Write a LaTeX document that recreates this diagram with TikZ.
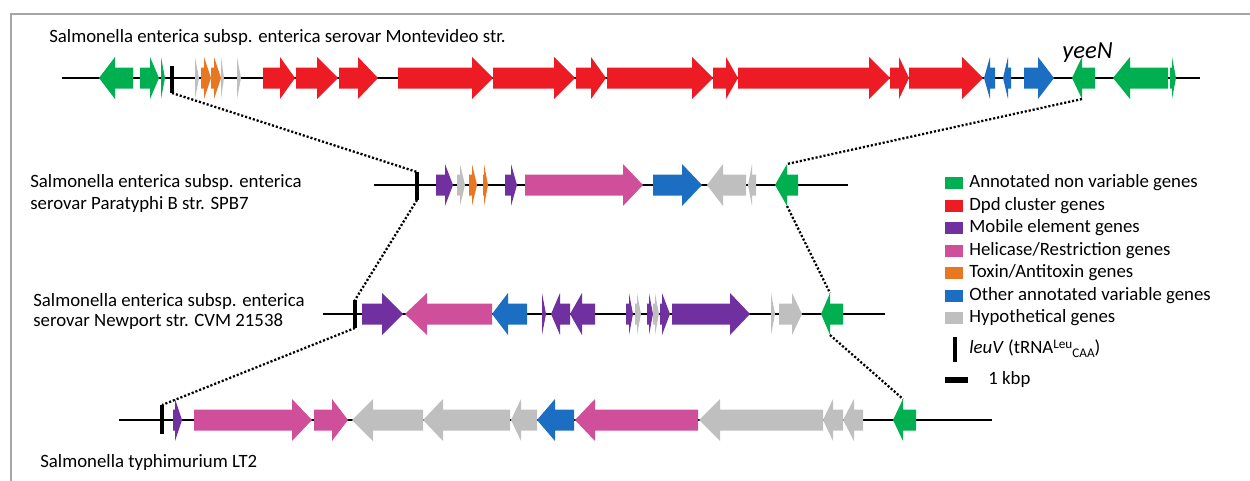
\documentclass[tikz,border=0pt]{standalone}
\usepackage{fontspec}
\setmainfont{Carlito}
\definecolor{cGreen}{HTML}{00B050}
\definecolor{cRed}{HTML}{ED1C24}
\definecolor{cPurple}{HTML}{7030A0}
\definecolor{cPink}{HTML}{CF4F9B}
\definecolor{cOrange}{HTML}{E87722}
\definecolor{cBlue}{HTML}{1B6EC2}
\definecolor{cGray}{HTML}{BFBFBF}
\definecolor{cFrame}{HTML}{A6A6A6}
% rightward gene: colour, y, start, head base, tip
\newcommand\gR[5]{\fill[#1] (#3,{#2-10.5}) -- (#4,{#2-10.5}) -- (#4,{#2-21}) -- (#5,#2) -- (#4,{#2+21}) -- (#4,{#2+10.5}) -- (#3,{#2+10.5}) -- cycle;}
% leftward gene: colour, y, tip, head base, end
\newcommand\gL[5]{\fill[#1] (#5,{#2-10.5}) -- (#4,{#2-10.5}) -- (#4,{#2-21}) -- (#3,#2) -- (#4,{#2+21}) -- (#4,{#2+10.5}) -- (#5,{#2+10.5}) -- cycle;}
\begin{document}
\begin{tikzpicture}[x=0.02cm,y=-0.02cm,
  backbone/.style={line width=1.1pt,black},
  leubar/.style={line width=1.8pt,black},
  link/.style={line width=1.3pt,black,dash pattern=on 1.2pt off 1.1pt},
  lbl/.style={anchor=base west,inner sep=0pt,font=\fontsize{10.7}{13}\selectfont},
  swatch/.style={minimum width=18*0.02cm,minimum height=12*0.02cm,inner sep=0pt,anchor=west}]
\useasboundingbox (0,0) rectangle (1250,480);
\draw[cFrame,line width=1pt] (11,490) -- (11,14) -- (1260,14);

% ---- labels
\node[lbl] (t1) at (49,42.5) {Salmonella enterica subsp. enterica serovar Montevideo str.};
\node[lbl] (t2a) at (30,187.5) {Salmonella enterica subsp. enterica};
\node[lbl] (t2b) at (30,209.5) {serovar Paratyphi B str. SPB7};
\node[lbl] (t3a) at (33,306.5) {Salmonella enterica subsp. enterica};
\node[lbl] (t3b) at (33,326.5) {serovar Newport str. CVM 21538};
\node[lbl] (t4) at (40,467.5) {Salmonella typhimurium LT2};
\node[lbl,font=\fontsize{14}{16}\selectfont\itshape] (yeen) at (1062,58) {yeeN};

% ---- coordinates
\coordinate (b1t) at (172,66);  \coordinate (b1b) at (172,93);
\coordinate (b2t) at (417,172); \coordinate (b2b) at (417,200);
\coordinate (b3t) at (355,300); \coordinate (b3b) at (355,328);
\coordinate (b4t) at (162,405); \coordinate (b4b) at (162,434);
\coordinate (g1b) at (1082,99);
\coordinate (g2t) at (787,164);  \coordinate (g2b) at (787,206);
\coordinate (g3t) at (830,293);  \coordinate (g3b) at (830,335);
\coordinate (g4t) at (903,399);

% ---- dotted links
\draw[link] (b1b) -- (b2t);
\draw[link] (g1b) -- (g2t);
\draw[link] (b2b) -- (b3t);
\draw[link] (g2b) -- (g3t);
\draw[link] (b3b) -- (b4t);
\draw[link] (g3b) -- (g4t);

% ---- row 1
\draw[backbone] (62,78) -- (1200,78);
\gL{cGreen}{78}{99}{115}{133}
\gR{cGreen}{78}{140}{150}{159}
\gR{cGreen}{78}{161}{161}{165}
\gR{cGray}{78}{195}{195}{199}
\gR{cOrange}{78}{201}{204}{211}
\gR{cOrange}{78}{211}{214}{221}
\gR{cGray}{78}{221}{221}{224}
\gR{cGray}{78}{237}{237}{241}
\gR{cRed}{78}{263}{280}{295}
\gR{cRed}{78}{296}{317}{338}
\gR{cRed}{78}{339}{358}{378}
\gR{cRed}{78}{398}{472}{493}
\gR{cRed}{78}{493}{554}{575}
\gR{cRed}{78}{576}{591}{606}
\gR{cRed}{78}{607}{692}{713}
\gR{cRed}{78}{713}{726}{738}
\gR{cRed}{78}{738}{869}{890}
\gR{cRed}{78}{890}{899}{909}
\gR{cRed}{78}{909}{962}{983}
\gL{cBlue}{78}{984}{990}{995}
\gL{cBlue}{78}{1003}{1008}{1011}
\gR{cBlue}{78}{1024}{1038}{1054}
\gL{cGreen}{78}{1072}{1082}{1095}
\gL{cGreen}{78}{1113}{1130}{1168}
\gR{cGreen}{78}{1170}{1172}{1176}
\draw[leubar] (b1t) -- (b1b);

% ---- row 2
\draw[backbone] (374,185) -- (848,185);
\gR{cPurple}{185}{436}{445}{453}
\gR{cGray}{185}{457}{460}{465}
\gR{cOrange}{185}{469}{472}{477}
\gR{cOrange}{185}{483}{484}{488}
\gR{cPurple}{185}{505}{511}{517}
\gR{cPink}{185}{525}{623}{643}
\gR{cBlue}{185}{653}{682}{702}
\gL{cGray}{185}{707}{723}{746}
\gL{cGray}{185}{748}{752}{756}
\gL{cGreen}{185}{775}{787}{798}
\draw[leubar] (b2t) -- (b2b);

% ---- row 3
\draw[backbone] (323,314) -- (885,314);
\gR{cPurple}{314}{362}{382}{403}
\gL{cPink}{314}{405}{427}{492}
\gL{cBlue}{314}{492}{508}{527}
\gR{cPurple}{314}{542}{542}{546}
\gL{cPurple}{314}{551}{560}{570}
\gL{cPurple}{314}{570}{582}{595}
\gR{cPurple}{314}{626}{629}{633}
\gR{cGray}{314}{635}{637}{641}
\gR{cPurple}{314}{647}{649}{653}
\gR{cGray}{314}{653}{655}{659}
\gR{cPurple}{314}{660}{662}{670}
\gR{cPurple}{314}{672}{730}{750}
\gR{cGray}{314}{771}{771}{775}
\gR{cGray}{314}{779}{792}{802}
\gL{cGreen}{314}{821}{830}{843}
\draw[leubar] (b3t) -- (b3b);

% ---- row 4
\draw[backbone] (119,420) -- (992,420);
\gR{cPurple}{420}{173}{175}{182}
\gR{cPink}{420}{194}{292}{312}
\gR{cPink}{420}{314}{332}{348}
\gL{cGray}{420}{352}{373}{423}
\gL{cGray}{420}{423}{443}{510}
\gL{cGray}{420}{511}{521}{537}
\gL{cBlue}{420}{537}{555}{574}
\gL{cPink}{420}{575}{595}{698}
\gL{cGray}{420}{699}{720}{823}
\gL{cGray}{420}{823}{833}{843}
\gL{cGray}{420}{843}{854}{863}
\gL{cGreen}{420}{893}{903}{916}
\draw[leubar] (b4t) -- (b4b);

% ---- legend
\node[swatch,fill=cGreen]  (s1) at (945,183) {};
\node[swatch,fill=cRed]    (s2) at (945,205.5) {};
\node[swatch,fill=cPurple] (s3) at (945,228) {};
\node[swatch,fill=cPink]   (s4) at (945,250.5) {};
\node[swatch,fill=cOrange] (s5) at (945,273) {};
\node[swatch,fill=cBlue]   (s6) at (945,295.5) {};
\node[swatch,fill=cGray]   (s7) at (945,318) {};
\node[lbl] (l1) at (969,187.5) {Annotated non variable genes};
\node[lbl] (l2) at (969,210) {Dpd cluster genes};
\node[lbl] (l3) at (969,232.5) {Mobile element genes};
\node[lbl] (l4) at (969,255) {Helicase/Restriction genes};
\node[lbl] (l5) at (969,277.5) {Toxin/Antitoxin genes};
\node[lbl] (l6) at (969,300) {Other annotated variable genes};
\node[lbl] (l7) at (969,322.5) {Hypothetical genes};
\coordinate (lbt) at (955,337); \coordinate (lbb) at (955,362);
\draw[leubar] (lbt) -- (lbb);
\node[lbl] (l8) at (969,353.5) {\textit{leuV} (tRNA\raisebox{0.55ex}{\fontsize{7.5}{8}\selectfont Leu}\raisebox{-0.45ex}{\fontsize{7.5}{8}\selectfont CAA})};
\coordinate (sbl) at (945,380); \coordinate (sbr) at (968,380);
\draw[line width=3.6pt,black] (sbl) -- (sbr);
\node[lbl] (l9) at (988,384.5) {1 kbp};
\end{tikzpicture}
\end{document}
